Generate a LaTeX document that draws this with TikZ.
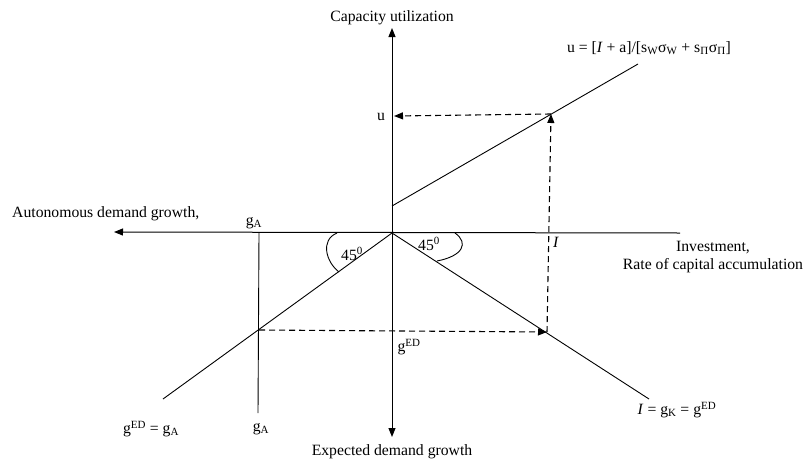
\documentclass[tikz,border=0pt]{standalone}
\usepackage{fontspec}
\setmainfont{Liberation Serif}
\usetikzlibrary{arrows.meta}
\begin{document}
\begin{tikzpicture}[x=1pt,y=-1pt,
  lbl/.style={inner sep=0pt,font=\fontsize{15.7}{18}\selectfont},
  ln/.style={line width=0.9pt},
  axis/.style={line width=1pt},
  tip/.style={-{Triangle[length=9pt,width=7pt]}},
  dsh/.style={line width=1.1pt,dash pattern=on 6pt off 4pt}]
\useasboundingbox (0,0) rectangle (805,461);
% key points
\coordinate (O) at (392,233);
\coordinate (Vtop) at (392,28);
\coordinate (Vbot) at (392,437);
\coordinate (Hleft) at (114,232);
\coordinate (Hright) at (680,233);
\coordinate (Ustart) at (392,206);
\coordinate (Uend) at (638,64);
\coordinate (P) at (551,114);
\coordinate (Q) at (547,332);
\coordinate (R) at (259,330);
\coordinate (LLend) at (163,399);
\coordinate (LRend) at (649,399);
\coordinate (GAtop) at (259,233);
\coordinate (GAbot) at (258,413);
\coordinate (Uaxis) at (394,116);
% axes
\draw[axis,tip] (O) -- (Vtop);
\draw[axis,tip] (O) -- (Vbot);
\draw[axis,tip] (Hright) -- (Hleft);
% lines
\draw[ln] (Ustart) -- (Uend);
\draw[ln] (O) -- (LLend);
\draw[ln] (O) -- (LRend);
\draw[ln] (GAtop) -- (GAbot);
% dashed arrows
\draw[dsh,tip] (R) -- (Q);
\draw[dsh,tip] (Q) -- (P);
\draw[dsh,tip] (P) -- (Uaxis);
% angle arcs
\coordinate (A1s) at (337,233);
\coordinate (A1e) at (339,272);
\coordinate (A2s) at (455,233);
\coordinate (A2e) at (437,261);
\draw[ln] (A1s) .. controls (320,240) and (326,262) .. (A1e);
\draw[ln] (A2s) .. controls (469,243) and (463,256) .. (A2e);
% labels
\node[lbl] (tcap) at (392,18) {Capacity utilization};
\node[lbl] (tfun) at (649,48) {u = [\textit{I} + a]/[s\textsubscript{W}σ\textsubscript{W} + s\textsubscript{Π}σ\textsubscript{Π}]};
\node[lbl] (tu) at (381,117) {u};
\node[lbl,anchor=west] (taut) at (12,214) {Autonomous demand growth,};
\node[lbl] (tga1) at (254,223) {g\textsubscript{A}};
\node[lbl] (tI) at (556,242) {\textit{I}};
\node[lbl,align=center] (tinv) at (713,257) {Investment,\\Rate of capital accumulation};
\node[lbl] (ta1) at (352,254) {45\textsuperscript{0}};
\node[lbl] (ta2) at (429,244) {45\textsuperscript{0}};
\node[lbl] (tged) at (409,347) {g\textsuperscript{ED}};
\node[lbl] (tgl) at (151,429) {g\textsuperscript{ED} = g\textsubscript{A}};
\node[lbl] (tga2) at (261,429) {g\textsubscript{A}};
\node[lbl] (tik) at (677,410) {\textit{I} = g\textsubscript{K} = g\textsuperscript{ED}};
\node[lbl] (texp) at (392,452) {Expected demand growth};
\end{tikzpicture}
\end{document}
